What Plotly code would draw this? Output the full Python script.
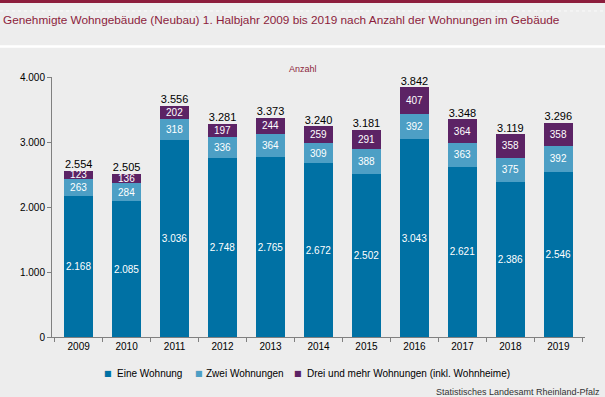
import plotly.graph_objects as go

years = ["2009", "2010", "2011", "2012", "2013", "2014", "2015", "2016", "2017", "2018", "2019"]
eine = [2168, 2085, 3036, 2748, 2765, 2672, 2502, 3043, 2621, 2386, 2546]
zwei = [263, 284, 318, 336, 364, 309, 388, 392, 363, 375, 392]
drei = [123, 136, 202, 197, 244, 259, 291, 407, 364, 358, 358]
totals = [a + b + c for a, b, c in zip(eine, zwei, drei)]

names = ["Eine Wohnung", "Zwei Wohnungen", "Drei und mehr Wohnungen (inkl. Wohnheime)"]
colors = ["#0071a4", "#4d9fc5", "#5c2365"]

FONT = "Liberation Sans, Arial, sans-serif"

def de(v):
    return f"{v:,}".replace(",", ".")

fig = go.Figure()
for vals, name, col in zip([eine, zwei, drei], names, colors):
    fig.add_trace(go.Bar(
        x=years, y=vals, name=name, marker=dict(color=col, line=dict(width=0)),
        text=[de(v) for v in vals], textposition="inside", insidetextanchor="middle",
        textangle=0, constraintext="none",
        textfont=dict(color="white", size=10, family=FONT),
        hoverinfo="skip", showlegend=False,
    ))

fig.add_trace(go.Scatter(
    x=years, y=totals, mode="text", text=[de(v) for v in totals],
    textposition="top center", textfont=dict(color="black", size=11, family=FONT),
    showlegend=False, hoverinfo="skip", cliponaxis=False,
))

def py(p):
    return (337 - p) / 260.0

def px(p):
    return (p - 52) / 533.0

shapes = [
    dict(type="rect", xref="paper", yref="paper", x0=px(0), x1=px(605), y0=py(3), y1=py(-2),
         fillcolor="#8c1d3c", line=dict(width=0), layer="above"),
    dict(type="line", xref="paper", yref="paper", x0=px(0), x1=px(605), y0=py(11), y1=py(11),
         line=dict(color="#fafafa", width=1, dash="dot")),
    dict(type="line", xref="paper", yref="paper", x0=px(0), x1=px(605), y0=py(46.5), y1=py(46.5),
         line=dict(color="#ffffff", width=2.5)),
]

annotations = [
    dict(text="Anzahl", xref="paper", yref="paper", x=px(303), y=py(69), showarrow=False,
         font=dict(size=9, color="#8c1d3c", family=FONT), xanchor="center", yanchor="middle"),
    dict(text="Statistisches Landesamt Rheinland-Pfalz", xref="paper", yref="paper",
         x=px(602), y=py(392), showarrow=False, xanchor="right", yanchor="middle",
         font=dict(size=9, color="#333333", family=FONT)),
]

# legend (manual, compact like the reference)
legend_sq_x = [102, 193, 292]
legend_tx_x = [115, 204, 305]
for name, col, sx, tx in zip(names, colors, legend_sq_x, legend_tx_x):
    annotations.append(dict(text="■", xref="paper", yref="paper", x=px(sx), y=py(373.5),
                            showarrow=False, xanchor="left", yanchor="middle",
                            font=dict(size=8, color=col, family="DejaVu Sans")))
    annotations.append(dict(text=name, xref="paper", yref="paper", x=px(tx), y=py(373),
                            showarrow=False, xanchor="left", yanchor="middle",
                            font=dict(size=10, color="black", family=FONT)))

fig.update_layout(
    width=605, height=397,
    barmode="stack", bargap=0.4,
    paper_bgcolor="#ededed", plot_bgcolor="#ededed",
    separators=",.",
    margin=dict(l=52, r=20, t=77, b=60, pad=0),
    font=dict(family=FONT, size=10, color="black"),
    showlegend=False,
    title=dict(text="Genehmigte Wohngebäude (Neubau) 1. Halbjahr 2009 bis 2019 nach Anzahl der Wohnungen im Gebäude",
               x=0.005, xanchor="left", xref="container", y=1 - 20 / 397, yanchor="middle", yref="container",
               font=dict(size=11.8, color="#8c1d3c", family=FONT)),
    xaxis=dict(type="category", showline=True, linecolor="#808080", linewidth=1,
               ticks="outside", tickson="boundaries", ticklen=4, tickcolor="#808080",
               tickfont=dict(size=10, color="black"), showgrid=False, zeroline=False, fixedrange=True),
    yaxis=dict(range=[0, 4000], tickvals=[0, 1000, 2000, 3000, 4000], tickformat=",d",
               showline=True, linecolor="#808080", linewidth=1, ticks="outside", ticklen=4,
               tickcolor="#808080", showgrid=False, zeroline=False,
               tickfont=dict(size=10, color="black"), fixedrange=True),
    shapes=shapes,
    annotations=annotations,
)

fig.write_html("out.html", config={"displayModeBar": False},
               post_script="document.body.style.margin='0';document.body.style.overflow='hidden';")
